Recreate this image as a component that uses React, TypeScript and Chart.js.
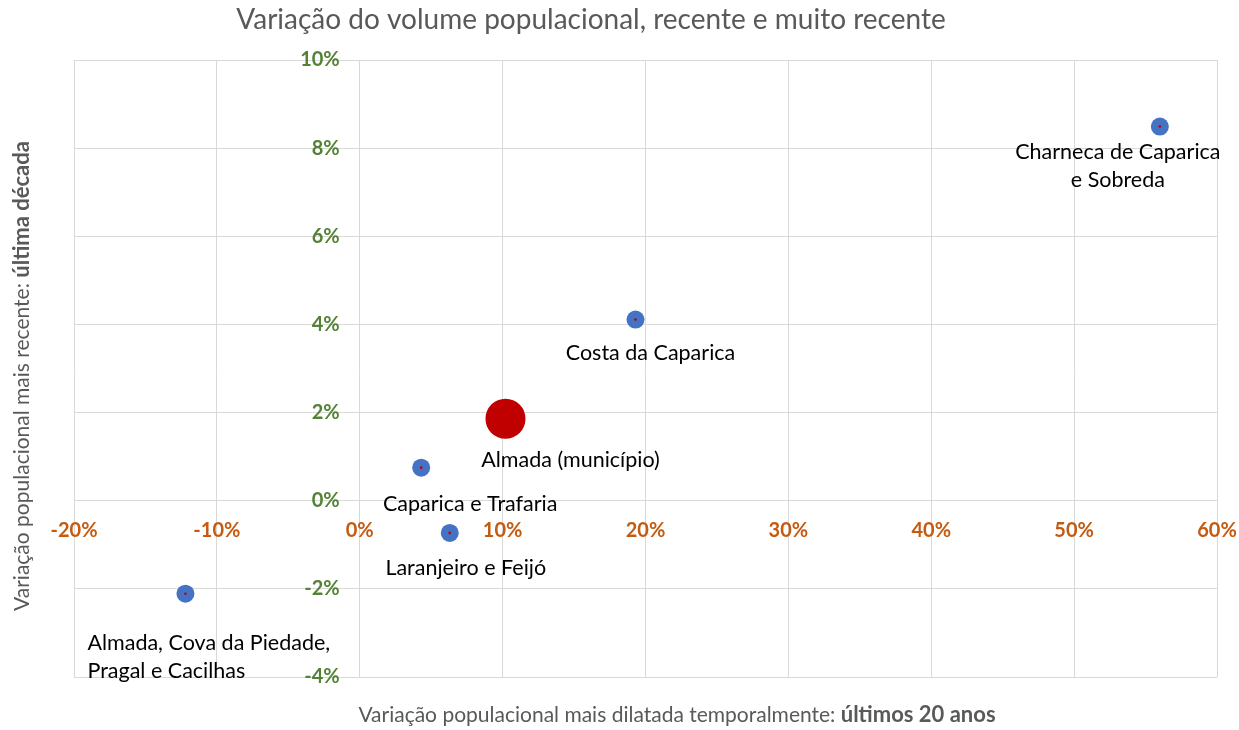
import React, { useEffect, useRef } from "react";
import { Chart, registerables } from "chart.js";

Chart.register(...registerables);

// ---- Data ----
const titleText = "Variação do volume populacional, recente e muito recente";
const xTitleNormal = "Variação populacional mais dilatada temporalmente: ";
const xTitleBold = "últimos 20 anos";
const yTitleNormal = "Variação populacional mais recente: ";
const yTitleBold = "última década";

const names: string[][] = [
  ["Charneca de Caparica", "e Sobreda"],
  ["Costa da Caparica"],
  ["Almada (município)"],
  ["Caparica e Trafaria"],
  ["Laranjeiro e Feijó"],
  ["Almada, Cova da Piedade,", "Pragal e Cacilhas"],
];
const xValues = [56.0, 19.3, 10.2, 4.3, 6.3, -12.2]; // últimos 20 anos (%)
const yValues = [8.49, 4.11, 1.86, 0.75, -0.73, -2.11]; // última década (%)
const isMunicipality = [false, false, true, false, false, false];

const xMin = -20, xMax = 60, xStep = 10;
const yMin = -4, yMax = 10, yStep = 2;

// ---- Styles ----
const FONT = "Lato, 'Open Sans', sans-serif";
const GREY_TEXT = "#595959";
const GRID = "#d9d9d9";
const BLUE = "#4472C4";
const RED = "#C00000";
// y tick labels sit a little left of the x=0 line (in x units)
const yAxisAnchor = -1.4;
// label offsets relative to point (px): [dx, dy, align]
const labelOffsets: [number, number, CanvasTextAlign][] = [
  [-42, 26, "center"],
  [15, 33, "center"],
  [65, 41, "center"],
  [49, 36, "center"],
  [16, 35, "center"],
  [-98, 49, "left"],
];

const labelsPlugin = {
  id: "customText",
  afterDraw(chart: any) {
    const ctx = chart.ctx as CanvasRenderingContext2D;
    const meta = chart.getDatasetMeta(0);
    ctx.save();
    // data labels
    ctx.fillStyle = "#000000";
    ctx.font = `21.5px ${FONT}`;
    ctx.textBaseline = "middle";
    meta.data.forEach((el: any, i: number) => {
      const [dx, dy, align] = labelOffsets[i];
      ctx.textAlign = align;
      names[i].forEach((line, j) => {
        ctx.fillText(line, el.x + dx, el.y + dy + j * 28);
      });
    });
    // chart title
    ctx.fillStyle = GREY_TEXT;
    ctx.font = `28px ${FONT}`;
    ctx.textAlign = "center";
    ctx.fillText(titleText, 591, 20);

    const nFont = `21px ${FONT}`;
    const bFont = `bold 22px ${FONT}`;
    // x title
    {
      ctx.font = nFont;
      const w1 = ctx.measureText(xTitleNormal).width;
      ctx.font = bFont;
      const w2 = ctx.measureText(xTitleBold).width;
      const start = 677 - (w1 + w2) / 2;
      ctx.textAlign = "left";
      ctx.font = nFont;
      ctx.fillText(xTitleNormal, start, 715);
      ctx.font = bFont;
      ctx.fillText(xTitleBold, start + w1, 715);
    }
    // y title
    {
      ctx.save();
      ctx.translate(22, 376);
      ctx.rotate(-Math.PI / 2);
      ctx.font = nFont;
      const w1 = ctx.measureText(yTitleNormal).width;
      ctx.font = bFont;
      const w2 = ctx.measureText(yTitleBold).width;
      const start = -(w1 + w2) / 2;
      ctx.textAlign = "left";
      ctx.font = nFont;
      ctx.fillText(yTitleNormal, start, 0);
      ctx.font = bFont;
      ctx.fillText(yTitleBold, start + w1, 0);
      ctx.restore();
    }
    ctx.restore();
  },
};

export default function App() {
  const ref = useRef<HTMLCanvasElement | null>(null);
  useEffect(() => {
    if (!ref.current) return;
    const points = xValues.map((x, i) => ({ x, y: yValues[i] }));
    const chart = new Chart(ref.current, {
      type: "scatter",
      data: {
        datasets: [
          {
            label: "Freguesias",
            data: points,
            order: 1,
            pointRadius: isMunicipality.map((m) => (m ? 20 : 9)),
            pointHoverRadius: isMunicipality.map((m) => (m ? 20 : 9)),
            backgroundColor: isMunicipality.map((m) => (m ? RED : BLUE)),
            borderColor: isMunicipality.map((m) => (m ? RED : BLUE)),
            borderWidth: 0,
          },
          {
            label: "centro",
            data: points,
            order: 0,
            pointRadius: 1.3,
            backgroundColor: RED,
            borderColor: RED,
            borderWidth: 0,
          },
        ],
      },
      options: {
        animation: false,
        responsive: false,
        maintainAspectRatio: false,
        layout: { padding: { left: 74, right: 22, top: 60, bottom: 53 } },
        plugins: {
          legend: { display: false },
          tooltip: { enabled: false },
          title: { display: false },
        },
        scales: {
          x: {
            type: "linear",
            min: xMin,
            max: xMax,
            position: { y: 0 } as any,
            afterFit: (s: any) => {
              s.height = 0;
              s.paddingLeft = 0;
              s.paddingRight = 0;
            },
            ticks: {
              stepSize: xStep,
              padding: 18,
              color: "#C55A11",
              font: { family: FONT, size: 20, weight: "bold" },
              callback: (v: any) => `${v}%`,
            },
            grid: { color: GRID, lineWidth: 1, drawTicks: false },
            border: { display: true, color: GRID },
          },
          y: {
            type: "linear",
            min: yMin,
            max: yMax,
            position: { x: yAxisAnchor } as any,
            afterFit: (s: any) => {
              s.width = 0;
              s.paddingTop = 0;
              s.paddingBottom = 0;
            },
            ticks: {
              stepSize: yStep,
              color: "#548235",
              font: { family: FONT, size: 20, weight: "bold" },
              callback: (v: any) => `${v}%`,
            },
            grid: { color: GRID, lineWidth: 1, drawTicks: false },
            border: { display: false },
          },
        },
      },
      plugins: [labelsPlugin],
    });
    return () => chart.destroy();
  }, []);
  return (
    <div style={{ position: "fixed", left: 0, top: 0, width: 1239, height: 730, background: "#fff" }}>
      <canvas ref={ref} width={1239} height={730} style={{ width: 1239, height: 730 }} />
    </div>
  );
}
